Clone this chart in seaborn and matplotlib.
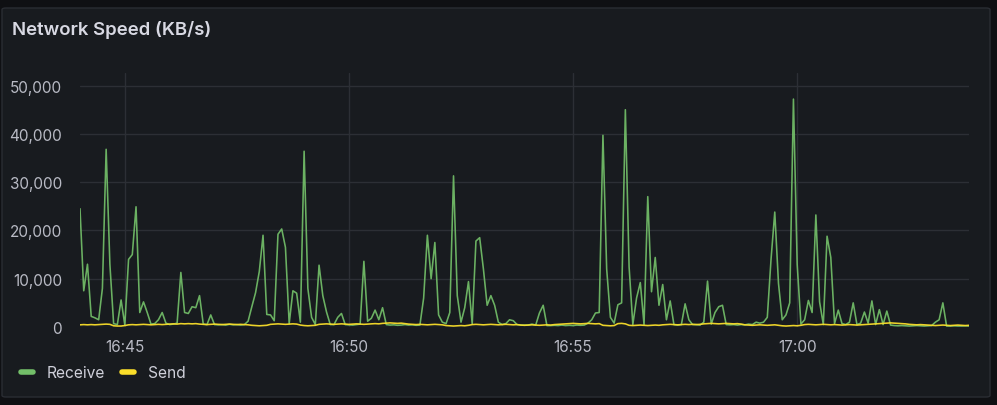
import matplotlib
matplotlib.use("Agg")
import matplotlib.pyplot as plt
import matplotlib.dates as mdates
from matplotlib.patches import FancyBboxPatch
from matplotlib.lines import Line2D
from matplotlib.ticker import FuncFormatter, FixedLocator
import numpy as np
import pandas as pd
import seaborn as sns

# ---------------- data (KB/s, one sample every 5 s from 16:44:00) ----------------
start_time = "2024-01-01 16:44:00"
step = "5s"

receive = [
    24500, 7500, 13000, 2200, 1900, 1500, 8000, 36800, 13000, 700,
    500, 5600, 400, 14000, 15000, 24900, 3000, 5200, 3000, 600,
    700, 1500, 3000, 800, 500, 600, 800, 11300, 3000, 2800,
    4200, 4000, 6500, 600, 500, 2500, 500, 450, 500, 400,
    550, 450, 500, 400, 500, 1200, 4200, 7100, 11500, 19000,
    2600, 2500, 1300, 19200, 20300, 16500, 700, 7500, 7000, 1000,
    36400, 8000, 2000, 500, 12800, 6500, 3100, 500, 500, 2000,
    2800, 500, 450, 400, 500, 600, 13600, 1200, 1800, 3500,
    1500, 4000, 500, 400, 450, 350, 400, 500, 400, 450,
    350, 400, 6000, 19000, 10000, 17500, 2500, 1000, 700, 3000,
    31300, 6500, 1000, 4000, 9400, 600, 17800, 18500, 12000, 4500,
    6500, 4500, 1000, 500, 700, 1500, 1300, 500, 400, 400,
    400, 600, 400, 2900, 4500, 300, 300, 350, 300, 400,
    300, 350, 300, 400, 350, 400, 800, 1500, 2900, 3000,
    39700, 12000, 2000, 800, 4600, 5000, 45000, 12500, 500, 6000,
    9200, 500, 27000, 7300, 14400, 4500, 8800, 1500, 5400, 500,
    400, 500, 4800, 1500, 500, 500, 400, 1000, 9500, 600,
    3000, 4200, 4500, 500, 450, 500, 400, 500, 450, 600,
    500, 1000, 800, 1000, 2000, 14000, 23800, 9000, 1500, 2500,
    5000, 47200, 13000, 600, 1500, 5500, 3000, 23200, 5200, 500,
    18800, 14400, 700, 3500, 700, 500, 1000, 5000, 500, 800,
    3100, 800, 5400, 500, 3600, 500, 3300, 400, 300, 250,
    300, 250, 200, 250, 300, 250, 200, 250, 300, 1000,
    1500, 5000, 200, 200, 250, 200, 200, 250, 200,
]

send = [
    450, 500, 450, 500, 450, 500, 550, 600, 550, 250,
    200, 200, 300, 450, 500, 450, 500, 550, 500, 450,
    500, 550, 500, 550, 600, 650, 600, 700, 650, 700,
    650, 700, 600, 550, 500, 550, 600, 550, 500, 550,
    600, 550, 500, 550, 500, 450, 350, 300, 250, 300,
    350, 550, 600, 650, 600, 550, 600, 650, 600, 400,
    300, 250, 300, 350, 550, 600, 650, 600, 550, 600,
    650, 600, 550, 600, 650, 600, 550, 600, 650, 700,
    650, 750, 800, 850, 800, 750, 800, 700, 600, 550,
    500, 550, 500, 450, 500, 550, 500, 450, 300, 250,
    200, 250, 300, 250, 350, 500, 550, 500, 450, 500,
    550, 500, 450, 500, 550, 500, 450, 500, 400, 350,
    400, 450, 400, 350, 400, 450, 400, 500, 550, 600,
    650, 700, 750, 700, 650, 700, 750, 700, 650, 700,
    350, 300, 250, 300, 700, 750, 650, 350, 300, 350,
    400, 350, 300, 350, 400, 350, 450, 500, 550, 500,
    450, 500, 550, 500, 550, 500, 550, 650, 700, 750,
    700, 650, 700, 750, 700, 650, 700, 600, 450, 400,
    350, 400, 450, 400, 350, 400, 450, 350, 250, 200,
    250, 300, 250, 350, 500, 550, 500, 450, 500, 550,
    500, 450, 500, 450, 400, 450, 500, 450, 400, 450,
    500, 550, 600, 650, 700, 750, 800, 850, 800, 750,
    700, 650, 550, 500, 450, 500, 450, 400, 350, 300,
    350, 400, 350, 300, 350, 400, 350, 300, 350,
]

series_names = ["Receive", "Send"]
series_colors = ["#73bf69", "#fade2a"]
y_ticks = [0, 10000, 20000, 30000, 40000, 50000]
title_text = "Network Speed (KB/s)"

# ---------------- build long-form table ----------------
times = pd.date_range(start_time, periods=len(receive), freq=step)
df = pd.concat([
    pd.DataFrame({"time": times, "value": receive, "series": series_names[0]}),
    pd.DataFrame({"time": times, "value": send, "series": series_names[1]}),
])

# ---------------- styling ----------------
sns.set_theme(style="dark")
plt.rcParams["font.family"] = ["Inter", "DejaVu Sans"]

W, H = 997, 406
fig = plt.figure(figsize=(W / 100, H / 100), dpi=100)
fig.patch.set_facecolor("#0f1013")

panel = FancyBboxPatch((2 / W, 8 / H), 988 / W, 389 / H,
                       boxstyle="round,pad=0,rounding_size=0.004",
                       transform=fig.transFigure, facecolor="#181b1f",
                       edgecolor="#2a2d33", linewidth=1.0, zorder=-5)
fig.patches.append(panel)

ax_left, ax_right = 80 / W, 969 / W
ax_bottom, ax_top = (H - 328) / H, (H - 74) / H
ax = fig.add_axes([ax_left, ax_bottom, ax_right - ax_left, ax_top - ax_bottom])
ax.set_zorder(5)
ax.set_facecolor("none")

sns.lineplot(data=df, x="time", y="value", hue="series",
             palette=dict(zip(series_names, series_colors)),
             hue_order=series_names, linewidth=1.15, ax=ax, legend=False,
             estimator=None)
for line, alpha, z in zip(ax.lines, [0.92, 0.95], [2, 3]):
    line.set_alpha(alpha)
    line.set_zorder(z)

ax.set_xlim(times[0], times[-1])
ax.set_ylim(0, 52600)
ax.yaxis.set_major_locator(FixedLocator(y_ticks))
ax.yaxis.set_major_formatter(FuncFormatter(lambda v, _: f"{v:,.0f}"))
ax.xaxis.set_major_locator(mdates.MinuteLocator(byminute=range(0, 60, 5)))
ax.xaxis.set_major_formatter(mdates.DateFormatter("%H:%M"))

ax.grid(True, color="#2c2f35", linewidth=1.0)
ax.set_axisbelow(True)
for s in ax.spines.values():
    s.set_visible(False)
ax.tick_params(axis="both", length=0, colors="#b8bac4", labelsize=11)
ax.tick_params(axis="y", pad=13)
ax.tick_params(axis="x", pad=9)
ax.set_xlabel("")
ax.set_ylabel("")

fig.text(12 / W, 1 - 30 / H, title_text, color="#d8d9e3", fontsize=13.4,
         fontweight="semibold", va="center", ha="left")

handles = [Line2D([0], [0], color=c, lw=4, solid_capstyle="round")
           for c in series_colors]
leg = fig.legend(handles, series_names, loc="center left",
                 bbox_to_anchor=(7 / W, 1 - 374 / H), frameon=False,
                 ncol=2, fontsize=11.2, handlelength=0.8, handletextpad=0.86,
                 columnspacing=1.07, labelcolor="#cfd0da")

fig.savefig("out.png", dpi=100, facecolor=fig.get_facecolor())
